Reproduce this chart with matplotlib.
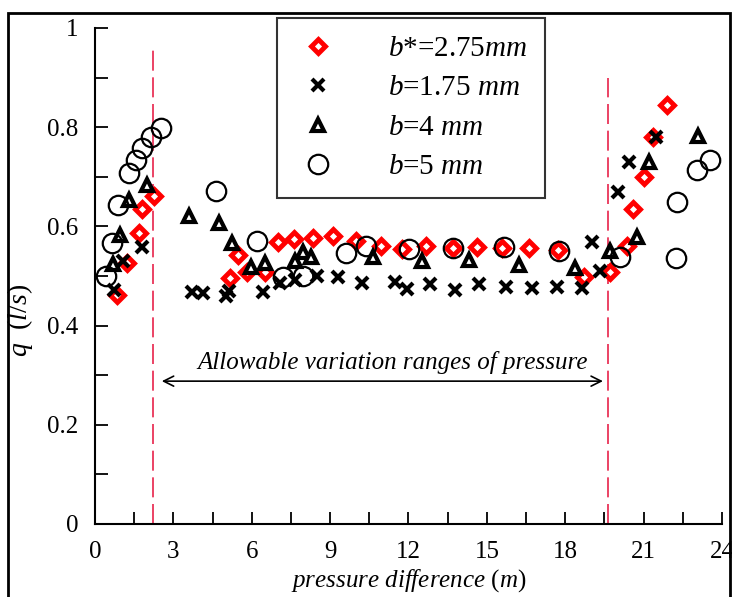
import numpy as np
import matplotlib
matplotlib.use("Agg")
import matplotlib.pyplot as plt
from matplotlib.patches import Rectangle
from matplotlib.lines import Line2D

plt.rcParams['font.family'] = ['Liberation Serif', 'DejaVu Serif']
plt.rcParams['mathtext.fontset'] = 'custom'
plt.rcParams['mathtext.rm'] = 'Liberation Serif'
plt.rcParams['mathtext.it'] = 'Liberation Serif:italic'

# b* = 2.75 mm (red diamonds)
red_x = [0.83, 1.24, 1.70, 1.79, 2.27, 5.17, 5.49, 5.81, 6.51, 7.02, 7.62, 8.33, 9.10,
         9.99, 10.94, 11.77, 12.67, 13.69, 14.61, 15.57, 16.62, 17.73, 18.72, 19.71,
         20.35, 20.58, 21.03, 21.37, 21.88]
red_y = [0.462, 0.526, 0.587, 0.635, 0.661, 0.495, 0.542, 0.509, 0.509, 0.569, 0.575,
         0.576, 0.581, 0.571, 0.560, 0.554, 0.560, 0.556, 0.559, 0.556, 0.556, 0.552,
         0.497, 0.509, 0.560, 0.636, 0.699, 0.781, 0.845]

# b = 1.75 mm (crosses)
x175_x = [0.73, 1.08, 1.79, 3.71, 4.13, 5.00, 5.12, 6.42, 7.08, 7.66, 8.51, 9.31, 10.21,
          11.48, 11.96, 12.82, 13.78, 14.71, 15.73, 16.72, 17.67, 18.65, 19.03, 19.32,
          20.03, 20.45, 21.47]
x175_y = [0.472, 0.531, 0.559, 0.468, 0.466, 0.460, 0.470, 0.468, 0.485, 0.492, 0.500,
          0.497, 0.485, 0.487, 0.474, 0.484, 0.472, 0.484, 0.478, 0.475, 0.478, 0.476,
          0.569, 0.511, 0.670, 0.729, 0.781]

# b = 4 mm (triangles)
b4_x = [0.68, 0.96, 1.31, 2.00, 3.61, 4.76, 5.23, 5.96, 6.51, 7.66, 7.95, 8.26, 10.65,
        12.50, 14.33, 16.24, 18.37, 19.72, 20.73, 21.22, 23.09]
b4_y = [0.524, 0.583, 0.653, 0.683, 0.621, 0.607, 0.567, 0.519, 0.527, 0.531, 0.549,
        0.538, 0.539, 0.531, 0.532, 0.522, 0.516, 0.551, 0.579, 0.730, 0.782]

# b = 5 mm (circles)
b5_x = [0.42, 0.64, 0.89, 1.31, 1.57, 1.79, 2.13, 2.51, 4.63, 6.21, 7.21, 7.97, 9.61,
        10.37, 12.03, 13.72, 15.66, 17.77, 20.10, 22.24, 22.26, 23.03, 23.54]
b5_y = [0.499, 0.567, 0.643, 0.707, 0.734, 0.759, 0.781, 0.798, 0.672, 0.571, 0.497,
        0.500, 0.547, 0.560, 0.554, 0.556, 0.558, 0.551, 0.538, 0.536, 0.650, 0.714, 0.734]

labels = [r"$b$*=2.75$mm$", r"$b$=1.75 $mm$", r"$b$=4 $mm$", r"$b$=5 $mm$"]

x_ticks = [0, 3, 6, 9, 12, 15, 18, 21, 24]
y_ticks = [0, 0.2, 0.4, 0.6, 0.8, 1.0]
y_ticklabels = ["0", "0.2", "0.4", "0.6", "0.8", "1"]

range_lo, range_hi = 2.23, 19.65

# marker styles
st_red = dict(marker='D', ms=7, mfc='white', mec='red', mew=3.5, ls='none')
st_x = dict(marker='x', ms=9, mec='black', mew=3, ls='none')
st_tri = dict(marker='^', ms=8, mfc='white', mec='black', mew=3, ls='none')
st_circ = dict(marker='o', ms=14, mfc='none', mec='black', mew=1.6, ls='none')

fig = plt.figure(figsize=(7.32, 5.97), dpi=100)
ax = fig.add_axes([0.1298, 0.1223, 0.8565, 0.8308])

# outer frame around the figure
fig.patches.append(Rectangle((0.011, -0.05), 0.986, 0.978 + 0.05, transform=fig.transFigure,
                             fill=False, edgecolor='black', linewidth=2, zorder=0))

ax.plot(red_x, red_y, zorder=3, **st_red)
ax.plot(b4_x, b4_y, zorder=4, **st_tri)
ax.plot(x175_x, x175_y, zorder=5, **st_x)
ax.plot(b5_x, b5_y, zorder=6, **st_circ)

# allowable range markers
ax.plot([range_lo, range_lo], [0, 0.96], color='#e8234a', lw=1.2, dashes=(12, 4), zorder=1)
ax.plot([range_hi, range_hi], [0, 0.90], color='#e8234a', lw=1.2, dashes=(12, 4), zorder=1)
ax.annotate('', xy=(2.45, 0.288), xytext=(19.55, 0.288),
            arrowprops=dict(arrowstyle='<->', color='black', lw=1.2, mutation_scale=18))
ax.text(11.4, 0.325, 'Allowable variation ranges of pressure', style='italic',
        fontsize=18, ha='center', va='center')

ax.set_xlim(0, 24)
ax.set_ylim(0, 1)
ax.set_xticks(x_ticks)
ax.set_xticks(np.arange(1.5, 24, 3), minor=True)
ax.set_yticks(y_ticks)
ax.set_yticklabels(y_ticklabels)
ax.set_yticks(np.arange(0.1, 1.0, 0.2), minor=True)
ax.tick_params(which='both', direction='in', length=9, width=1.3, labelsize=18, pad=12)
for s in ['top', 'right']:
    ax.spines[s].set_visible(False)
for s in ['left', 'bottom']:
    ax.spines[s].set_linewidth(1.5)

ax.set_xlabel(r"$pressure\ difference$ ($m$)", fontsize=18, labelpad=3)
ax.set_ylabel(r"$q$  ($l/s$)", fontsize=20)
ax.yaxis.set_label_coords(-0.095, 0.41)

handles = [Line2D([], [], **st_red), Line2D([], [], **st_x),
           Line2D([], [], **st_tri), Line2D([], [], **st_circ)]
leg = ax.legend(handles, labels, loc='upper left', bbox_to_anchor=(0.379, 0.970),
                bbox_transform=fig.transFigure, fontsize=21, frameon=True, fancybox=False,
                edgecolor='black', borderpad=0.6, handletextpad=1.6, labelspacing=0.45,
                borderaxespad=0, handlelength=1.6)
leg.get_frame().set_linewidth(1.5)
leg.set_zorder(10)

fig.savefig("out.png", dpi=100)
